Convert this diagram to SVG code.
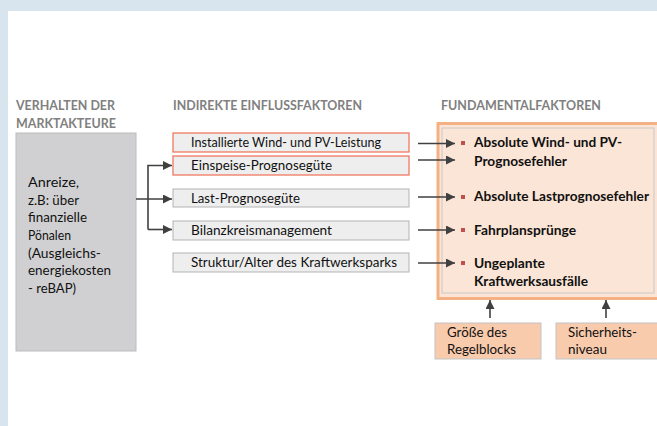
<svg xmlns="http://www.w3.org/2000/svg" width="657" height="426" viewBox="0 0 657 426">
<defs>
<marker id="ah" viewBox="0 0 10 10" refX="10" refY="5" markerWidth="9" markerHeight="9" markerUnits="userSpaceOnUse" orient="auto"><path d="M0,0 L10,5 L0,10 z" fill="#404040"/></marker>
</defs>
<style>
text{font-family:Lato,"Liberation Sans",sans-serif;fill:#111}
.hd{font-weight:bold;font-size:12.5px;fill:#808080}
.t{font-size:13px}
.b{font-weight:bold;font-size:13px}
.mid{fill:#eeeeee;stroke:#b4b4b4;stroke-width:1}
.red{fill:#eeeeee;stroke:#f07862;stroke-width:1.3}
.bot{fill:#f8cbad;stroke:#c4c4c4;stroke-width:1}
.con{stroke:#404040;stroke-width:1.6;fill:none}
.bul{fill:#c0504d}
</style>
<rect x="0" y="0" width="657" height="426" fill="#d9e5ee"/>
<rect x="8" y="11" width="649" height="415" fill="#ffffff"/>

<text class="hd" x="16" y="110" textLength="99" lengthAdjust="spacingAndGlyphs">VERHALTEN DER</text>
<text class="hd" x="16" y="128" textLength="100" lengthAdjust="spacingAndGlyphs">MARKTAKTEURE</text>
<text class="hd" x="173" y="110" textLength="189" lengthAdjust="spacingAndGlyphs">INDIREKTE EINFLUSSFAKTOREN</text>
<text class="hd" x="441" y="110" textLength="160" lengthAdjust="spacingAndGlyphs">FUNDAMENTALFAKTOREN</text>

<g id="akteure">
<rect x="16" y="133" width="120" height="218" fill="#d0d0d2" stroke="#bcbcbc" stroke-width="1"/>
<text class="t" x="28" y="187" textLength="51" lengthAdjust="spacingAndGlyphs">Anreize,</text>
<text class="t" x="28" y="205" textLength="51" lengthAdjust="spacingAndGlyphs">z.B: über</text>
<text class="t" x="28" y="222" textLength="59" lengthAdjust="spacingAndGlyphs">finanzielle</text>
<text class="t" x="28" y="240" textLength="43" lengthAdjust="spacingAndGlyphs">Pönalen</text>
<text class="t" x="28" y="258" textLength="73" lengthAdjust="spacingAndGlyphs">(Ausgleichs-</text>
<text class="t" x="28" y="275" textLength="83" lengthAdjust="spacingAndGlyphs">energiekosten</text>
<text class="t" x="28" y="293" textLength="48" lengthAdjust="spacingAndGlyphs">- reBAP)</text>
</g>

<g id="wind-pv-leistung">
<rect class="red" x="173" y="133" width="236" height="19"/>
<text class="t" x="191" y="147" textLength="190" lengthAdjust="spacingAndGlyphs">Installierte Wind- und PV-Leistung</text>
</g>
<g id="einspeise">
<rect class="red" x="173" y="156" width="236" height="19"/>
<text class="t" x="191" y="170" textLength="141" lengthAdjust="spacingAndGlyphs">Einspeise-Prognosegüte</text>
</g>
<g id="last">
<rect class="mid" x="173" y="189" width="236" height="18"/>
<text class="t" x="191" y="202.5" textLength="109" lengthAdjust="spacingAndGlyphs">Last-Prognosegüte</text>
</g>
<g id="bilanzkreis">
<rect class="mid" x="173" y="221" width="236" height="19"/>
<text class="t" x="191" y="235" textLength="141" lengthAdjust="spacingAndGlyphs">Bilanzkreismanagement</text>
</g>
<g id="struktur">
<rect class="mid" x="173" y="253" width="236" height="19"/>
<text class="t" x="191" y="267" textLength="206" lengthAdjust="spacingAndGlyphs">Struktur/Alter des Kraftwerksparks</text>
</g>

<g id="fundamental">
<rect x="438" y="123.5" width="230" height="175" fill="#fce4d6" stroke="#f4b183" stroke-width="3"/>
<rect x="442" y="128" width="212" height="165" fill="#fbe5d6" stroke="#c8c8c8" stroke-width="1"/>
<rect class="bul" x="461" y="141" width="4" height="4"/>
<text class="b" x="474" y="147" textLength="148" lengthAdjust="spacingAndGlyphs">Absolute Wind- und PV-</text>
<text class="b" x="474" y="166" textLength="93" lengthAdjust="spacingAndGlyphs">Prognosefehler</text>
<rect class="bul" x="461" y="195" width="4" height="4"/>
<text class="b" x="474" y="201" textLength="175" lengthAdjust="spacingAndGlyphs">Absolute Lastprognosefehler</text>
<rect class="bul" x="461" y="228" width="4" height="4"/>
<text class="b" x="474" y="234.5" textLength="102" lengthAdjust="spacingAndGlyphs">Fahrplansprünge</text>
<rect class="bul" x="461" y="261" width="4" height="4"/>
<text class="b" x="474" y="268" textLength="71" lengthAdjust="spacingAndGlyphs">Ungeplante</text>
<text class="b" x="474" y="286" textLength="114" lengthAdjust="spacingAndGlyphs">Kraftwerksausfälle</text>
</g>

<g id="regelblock">
<rect class="bot" x="435" y="323" width="106" height="36"/>
<text class="t" x="447" y="337" textLength="60" lengthAdjust="spacingAndGlyphs">Größe des</text>
<text class="t" x="447" y="354" textLength="69" lengthAdjust="spacingAndGlyphs">Regelblocks</text>
</g>
<g id="sicherheit">
<rect class="bot" x="556" y="323" width="110" height="36"/>
<text class="t" x="568" y="337" textLength="69" lengthAdjust="spacingAndGlyphs">Sicherheits-</text>
<text class="t" x="568" y="354" textLength="39" lengthAdjust="spacingAndGlyphs">niveau</text>
</g>

<g id="connectors">
<path class="con" d="M136,199 H172" marker-end="url(#ah)"/>
<path class="con" d="M148,229.5 V165.5 H172" marker-end="url(#ah)"/>
<path class="con" d="M148,229.5 H172" marker-end="url(#ah)"/>
<path class="con" d="M418,143.5 H455" marker-end="url(#ah)"/>
<path class="con" d="M418,160 H455" marker-end="url(#ah)"/>
<path class="con" d="M418,197 H455" marker-end="url(#ah)"/>
<path class="con" d="M418,230 H455" marker-end="url(#ah)"/>
<path class="con" d="M418,263 H455" marker-end="url(#ah)"/>
<path class="con" d="M490,318 V300" marker-end="url(#ah)"/>
<path class="con" d="M606,318 V300" marker-end="url(#ah)"/>
</g>
</svg>
